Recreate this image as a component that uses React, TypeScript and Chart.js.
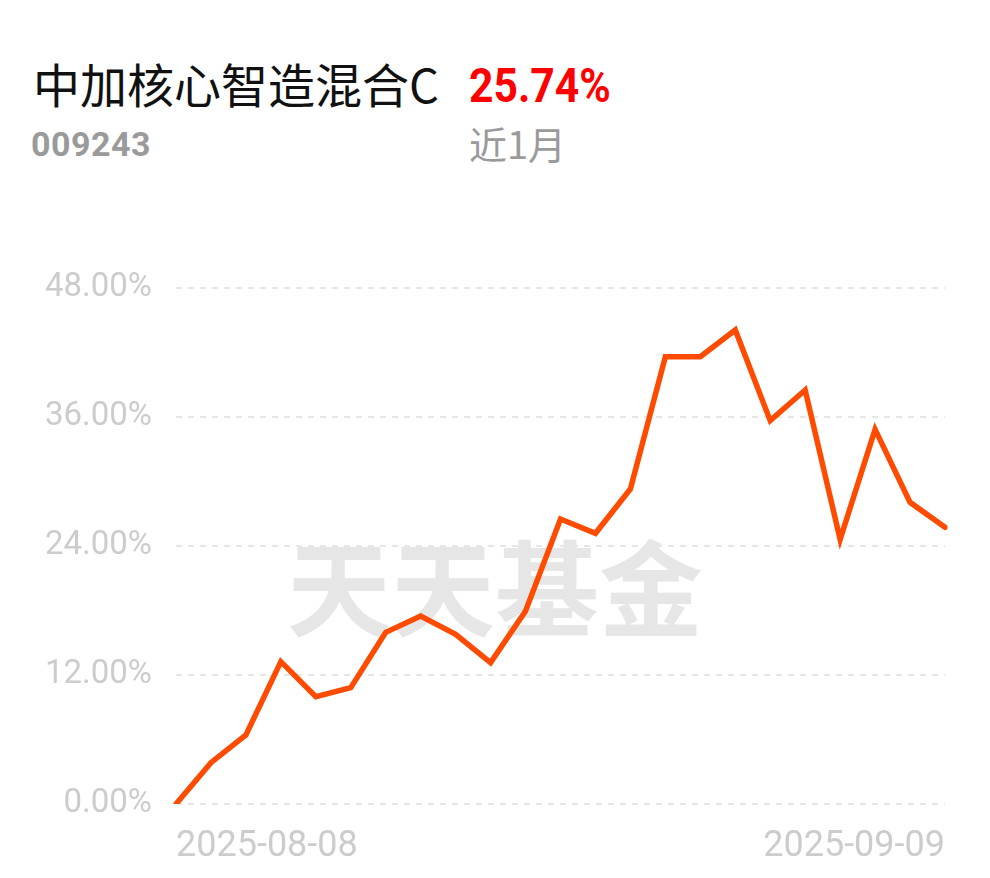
import React, { useEffect, useRef } from "react";
import { Chart, registerables } from "chart.js";

Chart.register(...registerables);

const fundName = "中加核心智造混合C";
const fundCode = "009243";
const periodReturn = "25.74%";
const periodLabel = "近1月";
const watermark = "天天基金";

const dates = [
  "2025-08-08", "2025-08-11", "2025-08-12", "2025-08-13", "2025-08-14", "2025-08-15",
  "2025-08-18", "2025-08-19", "2025-08-20", "2025-08-21", "2025-08-22",
  "2025-08-25", "2025-08-26", "2025-08-27", "2025-08-28", "2025-08-29",
  "2025-09-01", "2025-09-02", "2025-09-03", "2025-09-04", "2025-09-05",
  "2025-09-08", "2025-09-09",
];

const returns = [
  0, 3.84, 6.42, 13.24, 9.98, 10.82,
  15.97, 17.49, 15.78, 13.15, 17.95,
  26.51, 25.18, 29.3, 41.61, 41.61,
  44.09, 35.66, 38.51, 24.62, 34.85,
  28.06, 25.74,
];

const yTicks = [0, 12, 24, 36, 48];

export default function App() {
  const canvasRef = useRef<HTMLCanvasElement | null>(null);

  useEffect(() => {
    const canvas = canvasRef.current;
    if (!canvas) return;
    const chart = new Chart(canvas, {
      type: "line",
      data: {
        labels: dates,
        datasets: [
          {
            data: returns,
            borderColor: "#ff4b00",
            borderWidth: 5.5,
            pointRadius: 0,
            pointHoverRadius: 0,
            tension: 0,
            fill: false,
            borderCapStyle: "round",
          },
        ],
      },
      options: {
        responsive: false,
        animation: false,
        devicePixelRatio: 1,
        layout: { padding: { left: 0, right: 45, top: 88, bottom: 0 } },
        plugins: { legend: { display: false }, tooltip: { enabled: false } },
        scales: {
          x: {
            grid: { display: false, drawTicks: false },
            border: { display: false },
            afterFit: (scale: any) => {
              scale.height = 74;
            },
            ticks: {
              autoSkip: false,
              maxRotation: 0,
              minRotation: 0,
              align: "inner",
              padding: 21,
              color: "#cccccc",
              font: { family: "Roboto", size: 36, weight: "normal" },
              callback: (_v: any, i: number) =>
                i === 0 || i === dates.length - 1 ? dates[i] : "",
            },
          },
          y: {
            min: yTicks[0],
            max: yTicks[yTicks.length - 1],
            afterFit: (scale: any) => {
              scale.width = 176;
            },
            afterBuildTicks: (scale: any) => {
              scale.ticks = yTicks.map((v) => ({ value: v }));
            },
            grid: { color: "#e6e6e6", lineWidth: 2, drawTicks: false },
            border: { display: false, dash: [6, 6] },
            ticks: {
              padding: 24,
              color: "#cccccc",
              font: { family: "Roboto", size: 33, weight: "normal" },
              callback: (v: any) => Number(v).toFixed(2) + "%",
            },
          },
        },
      },
    });
    return () => chart.destroy();
  }, []);

  return (
    <div
      style={{
        position: "fixed",
        left: 0,
        top: 0,
        width: 990,
        height: 878,
        background: "#ffffff",
        overflow: "hidden",
      }}
    >
      <div
        style={{
          position: "absolute",
          left: 33,
          top: 59,
          fontFamily: "'Noto Sans CJK SC', sans-serif",
          fontSize: 47,
          lineHeight: 1,
          color: "#111111",
          whiteSpace: "nowrap",
        }}
      >
        {fundName}
      </div>
      <div
        style={{
          position: "absolute",
          left: 469,
          top: 61,
          fontFamily: "Roboto, sans-serif",
          fontWeight: 700,
          fontSize: 49,
          lineHeight: 1,
          color: "#ff0000",
          whiteSpace: "nowrap",
          transform: "scaleX(0.87)",
          transformOrigin: "left top",
        }}
      >
        {periodReturn}
      </div>
      <div
        style={{
          position: "absolute",
          left: 31,
          top: 127,
          fontFamily: "Roboto, sans-serif",
          fontWeight: 700,
          fontSize: 34,
          letterSpacing: 0.5,
          lineHeight: 1,
          color: "#9a9a9a",
          whiteSpace: "nowrap",
        }}
      >
        {fundCode}
      </div>
      <div
        style={{
          position: "absolute",
          left: 469,
          top: 124,
          fontFamily: "'Noto Sans CJK SC', sans-serif",
          fontSize: 38,
          lineHeight: 1,
          color: "#9a9a9a",
          whiteSpace: "nowrap",
        }}
      >
        {periodLabel}
      </div>
      <div
        style={{
          position: "absolute",
          left: 0,
          width: 990,
          top: 532,
          textAlign: "center",
          fontFamily: "'Noto Sans CJK SC', sans-serif",
          fontWeight: 700,
          fontSize: 104,
          lineHeight: 1,
          color: "#e6e6e6",
          whiteSpace: "nowrap",
        }}
      >
        {watermark}
      </div>
      <canvas
        ref={canvasRef}
        width={990}
        height={678}
        style={{ position: "absolute", left: 0, top: 200, width: 990, height: 678 }}
      />
    </div>
  );
}
